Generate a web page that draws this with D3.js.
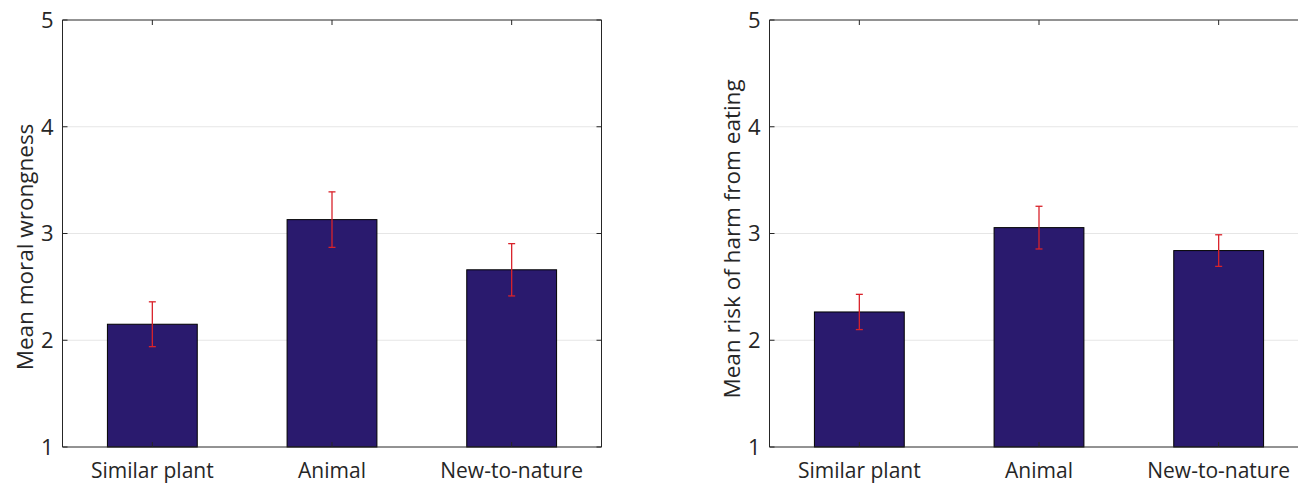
<!DOCTYPE html>
<html>
<head>
<meta charset="utf-8">
<script src="https://cdn.jsdelivr.net/npm/d3@7"></script>
<style>
body{margin:0;background:#fff;}
text{font-family:"Open Sans","Noto Sans",sans-serif;fill:#262626;}
</style>
</head>
<body>
<script>
// data
var categories = ["Similar plant", "Animal", "New-to-nature"];
var moralMeans = [2.15, 3.13, 2.66];
var moralErr = [0.21, 0.26, 0.245];
var harmMeans = [2.265, 3.055, 2.84];
var harmErr = [0.165, 0.2, 0.148];
var yTicks = [1, 2, 3, 4, 5];

var W = 1298, H = 486;
var svg = d3.select("body").append("svg")
    .attr("width", W)
    .attr("height", H);

function panel(left, label, means, errs, labelX, labelY) {
    var top = 20, bottom = 447, right = left + 539;
    var x = d3.scaleLinear().domain([0.5, 3.5]).range([left, right]);
    var y = d3.scaleLinear().domain([1, 5]).range([bottom, top]);
    var g = svg.append("g");

    // grid
    g.selectAll(".grid").data([2, 3, 4]).enter().append("line")
        .attr("x1", left).attr("x2", right)
        .attr("y1", function(d){return y(d);})
        .attr("y2", function(d){return y(d);})
        .attr("stroke", "#e6e6e6").attr("stroke-width", 1);

    // bars
    var bw = x(1.25) - x(0.75);
    g.selectAll(".bar").data(means).enter().append("rect")
        .attr("x", function(d,i){return x(i+1) - bw/2;})
        .attr("y", function(d){return y(d);})
        .attr("width", bw)
        .attr("height", function(d){return y(1) - y(d);})
        .attr("fill", "#2a1a6e")
        .attr("stroke", "#000").attr("stroke-width", 1);

    // error bars
    var eb = g.selectAll(".err").data(means).enter().append("g")
        .attr("stroke", "#d9232b").attr("stroke-width", 1.3);
    eb.append("line")
        .attr("x1", function(d,i){return x(i+1);})
        .attr("x2", function(d,i){return x(i+1);})
        .attr("y1", function(d,i){return y(d + errs[i]);})
        .attr("y2", function(d,i){return y(d - errs[i]);});
    [1, -1].forEach(function(s){
        eb.append("line")
            .attr("x1", function(d,i){return x(i+1) - 3.5;})
            .attr("x2", function(d,i){return x(i+1) + 3.5;})
            .attr("y1", function(d,i){return y(d + s*errs[i]);})
            .attr("y2", function(d,i){return y(d + s*errs[i]);});
    });

    // axes box
    var ax = g.append("g").attr("stroke", "#262626").attr("stroke-width", 1).attr("fill", "none");
    ax.append("line").attr("x1", left).attr("x2", right).attr("y1", top).attr("y2", top);
    ax.append("line").attr("x1", left).attr("x2", right).attr("y1", bottom).attr("y2", bottom);
    ax.append("line").attr("x1", left).attr("x2", left).attr("y1", top).attr("y2", bottom);
    ax.append("line").attr("x1", right).attr("x2", right).attr("y1", top).attr("y2", bottom);

    // ticks (inside)
    yTicks.forEach(function(t){
        ax.append("line").attr("x1", left).attr("x2", left + 5).attr("y1", y(t)).attr("y2", y(t));
        ax.append("line").attr("x1", right).attr("x2", right - 5).attr("y1", y(t)).attr("y2", y(t));
    });
    categories.forEach(function(c, i){
        ax.append("line").attr("x1", x(i+1)).attr("x2", x(i+1)).attr("y1", top).attr("y2", top + 5);
        ax.append("line").attr("x1", x(i+1)).attr("x2", x(i+1)).attr("y1", bottom).attr("y2", bottom - 5);
    });

    // tick labels
    g.selectAll(".yl").data(yTicks).enter().append("text")
        .attr("x", left - 9)
        .attr("y", function(d){return y(d);})
        .attr("dy", "0.36em")
        .attr("text-anchor", "end")
        .style("font-size", "22px")
        .text(function(d){return d;});
    g.selectAll(".xl").data(categories).enter().append("text")
        .attr("x", function(d,i){return x(i+1);})
        .attr("y", 478)
        .attr("text-anchor", "middle")
        .style("font-size", "21px")
        .text(function(d){return d;});

    // y label
    g.append("text")
        .attr("transform", "translate(" + labelX + "," + labelY + ") rotate(-90)")
        .attr("text-anchor", "middle")
        .attr("dy", "0.35em")
        .style("font-size", "22.5px")
        .text(label);
}

panel(62.5, "Mean moral wrongness", moralMeans, moralErr, 25, 247);
panel(769.5, "Mean risk of harm from eating", harmMeans, harmErr, 732, 239);
</script>
</body>
</html>
